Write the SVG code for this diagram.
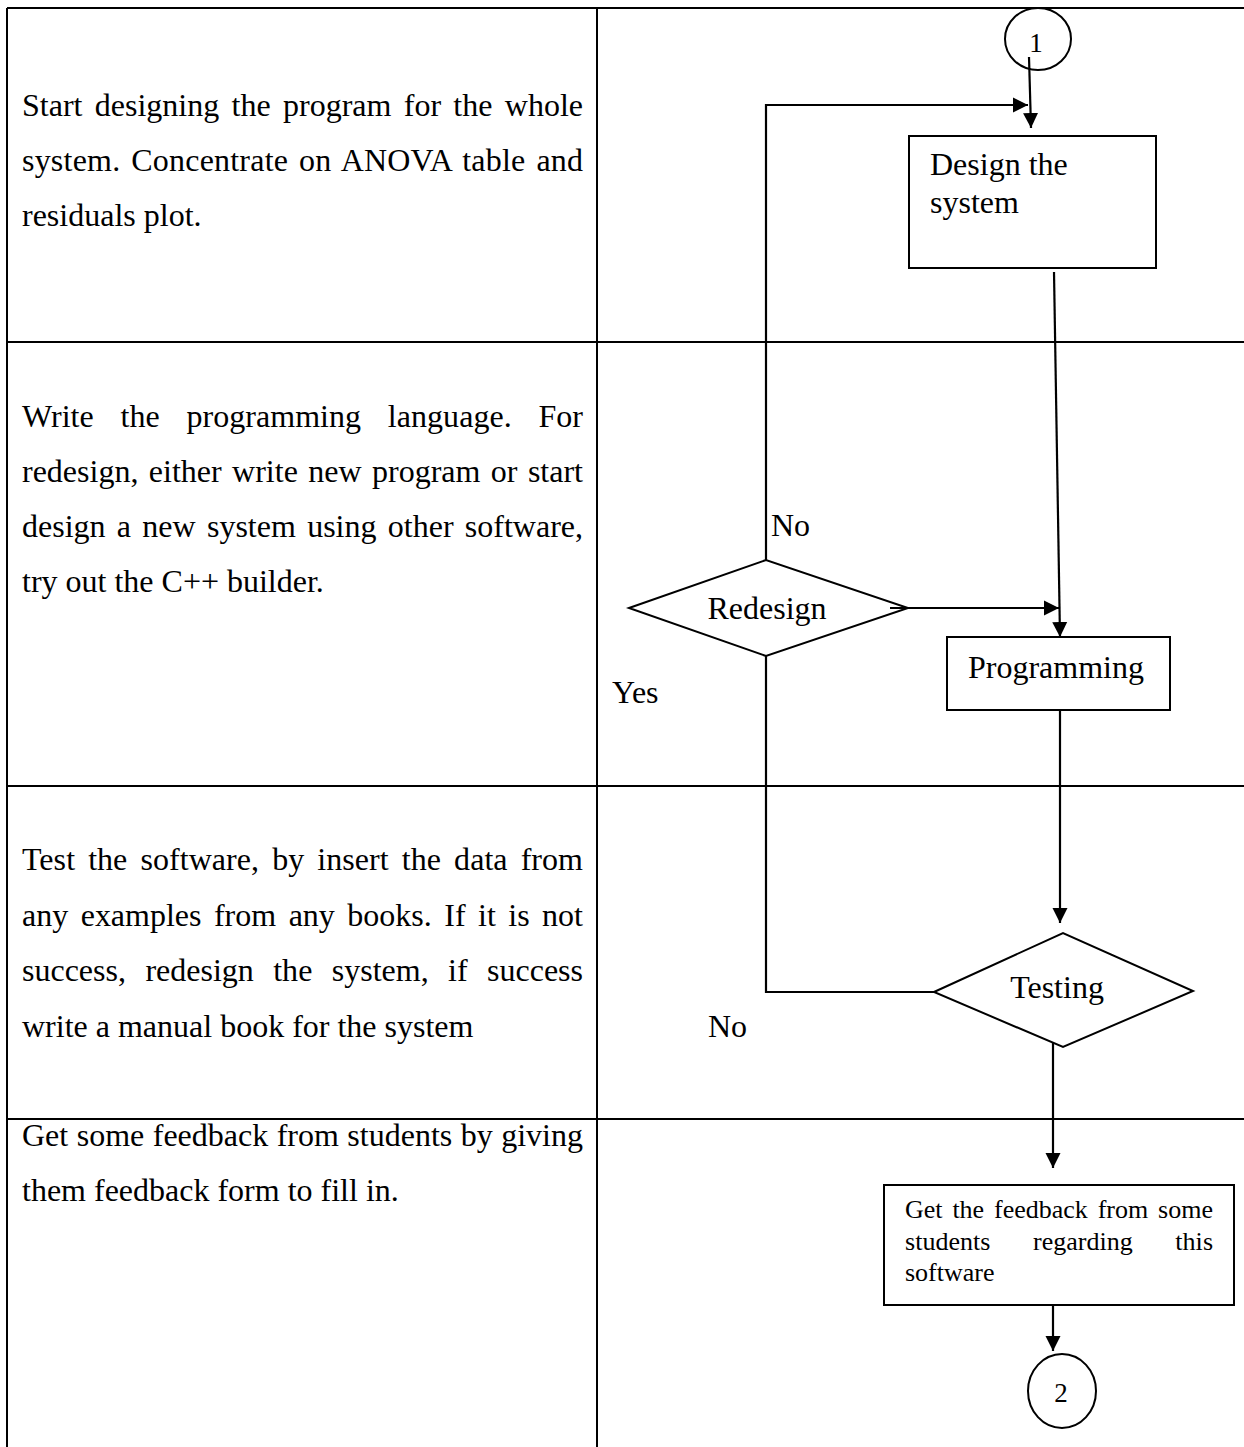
<svg xmlns="http://www.w3.org/2000/svg" width="1244" height="1447" viewBox="0 0 1244 1447">
<style>
text{font-family:"Liberation Serif","Times New Roman",serif;fill:#000}
.t{font-size:32px}
.s{font-size:26px}
.grid{stroke:#000;stroke-width:2;fill:none}
.shape{stroke:#000;stroke-width:2;fill:#fff}
.c{stroke:#000;stroke-width:2.2;fill:none}
</style>
<defs>
<marker id="ah" markerUnits="userSpaceOnUse" markerWidth="18" markerHeight="16" refX="15" refY="8" orient="auto">
<path d="M0,0.5 L15,8 L0,15.5 Z" fill="#000"/>
</marker>
</defs>
<rect width="1244" height="1447" fill="#fff"/>
<g id="table" class="grid">
<line x1="7" y1="8" x2="1244" y2="8"/>
<line x1="7" y1="342" x2="1244" y2="342"/>
<line x1="7" y1="786" x2="1244" y2="786"/>
<line x1="7" y1="1119" x2="1244" y2="1119"/>
<line x1="7" y1="8" x2="7" y2="1447"/>
<line x1="597" y1="8" x2="597" y2="1447"/>
</g>
<g id="descriptions" class="t">
<text x="22" y="116" word-spacing="4.3" textLength="561" lengthAdjust="spacing">Start designing the program for the whole</text>
<text x="22" y="171" word-spacing="2.7" textLength="561" lengthAdjust="spacing">system. Concentrate on ANOVA table and</text>
<text x="22" y="226">residuals plot.</text>
<text x="22" y="427" word-spacing="18.7" textLength="561" lengthAdjust="spacing">Write the programming language. For</text>
<text x="22" y="482" word-spacing="2.4" textLength="561" lengthAdjust="spacing">redesign, either write new program or start</text>
<text x="22" y="537" word-spacing="3.3" textLength="561" lengthAdjust="spacing">design a new system using other software,</text>
<text x="22" y="592">try out the C++ builder.</text>
<text x="22" y="870" word-spacing="5" textLength="561" lengthAdjust="spacing">Test the software, by insert the data from</text>
<text x="22" y="926" word-spacing="4.5" textLength="561" lengthAdjust="spacing">any examples from any books. If it is not</text>
<text x="22" y="981" word-spacing="11.4" textLength="561" lengthAdjust="spacing">success, redesign the system, if success</text>
<text x="22" y="1037">write a manual book for the system</text>
<text x="22" y="1146" word-spacing="0.5" textLength="561" lengthAdjust="spacing">Get some feedback from students by giving</text>
<text x="22" y="1201">them feedback form to fill in.</text>
</g>
<g id="connectors" class="c">
<line x1="1029" y1="57" x2="1031" y2="128" marker-end="url(#ah)"/>
<polyline points="766,560 766,105 1028,105" marker-end="url(#ah)"/>
<line x1="1054" y1="272" x2="1060" y2="637" marker-end="url(#ah)"/>
<line x1="890" y1="608" x2="1059" y2="608" marker-end="url(#ah)"/>
<polyline points="766,656 766,992 934,992"/>
<line x1="1060" y1="710" x2="1060" y2="923" marker-end="url(#ah)"/>
<line x1="1053" y1="1042" x2="1053" y2="1168" marker-end="url(#ah)"/>
<line x1="1053" y1="1305" x2="1053" y2="1351" marker-end="url(#ah)"/>
</g>
<g id="conn1">
<ellipse cx="1038" cy="39" rx="33" ry="31" class="shape" style="fill:none"/>
<text x="1036" y="52" font-size="27" text-anchor="middle">1</text>
</g>
<g id="design">
<rect x="909" y="136" width="247" height="132" class="shape"/>
<text class="t" x="930" y="175">Design the</text>
<text class="t" x="930" y="213">system</text>
</g>
<g id="redesign">
<polygon points="629,608 766,560 908,608 766,656" class="shape" style="fill:none"/>
<text class="t" x="767" y="619" text-anchor="middle">Redesign</text>
</g>
<g id="labels" class="t">
<text x="771" y="536">No</text>
<text x="612" y="703">Yes</text>
<text x="708" y="1037">No</text>
</g>
<g id="programming">
<rect x="947" y="637" width="223" height="73" class="shape"/>
<text class="t" x="1056" y="678" text-anchor="middle">Programming</text>
</g>
<g id="testing">
<polygon points="934,992 1063,933 1193,991 1063,1047" class="shape"/>
<text class="t" x="1057" y="998" text-anchor="middle">Testing</text>
</g>
<g id="feedback">
<rect x="884" y="1185" width="350" height="120" class="shape"/>
<text class="s" x="905" y="1218" word-spacing="3.3" textLength="308" lengthAdjust="spacing">Get the feedback from some</text>
<text class="s" x="905" y="1250" word-spacing="36" textLength="308" lengthAdjust="spacing">students regarding this</text>
<text class="s" x="905" y="1281">software</text>
</g>
<g id="conn2">
<ellipse cx="1062" cy="1391" rx="34" ry="37" class="shape"/>
<text x="1061" y="1402" font-size="27" text-anchor="middle">2</text>
</g>
</svg>
